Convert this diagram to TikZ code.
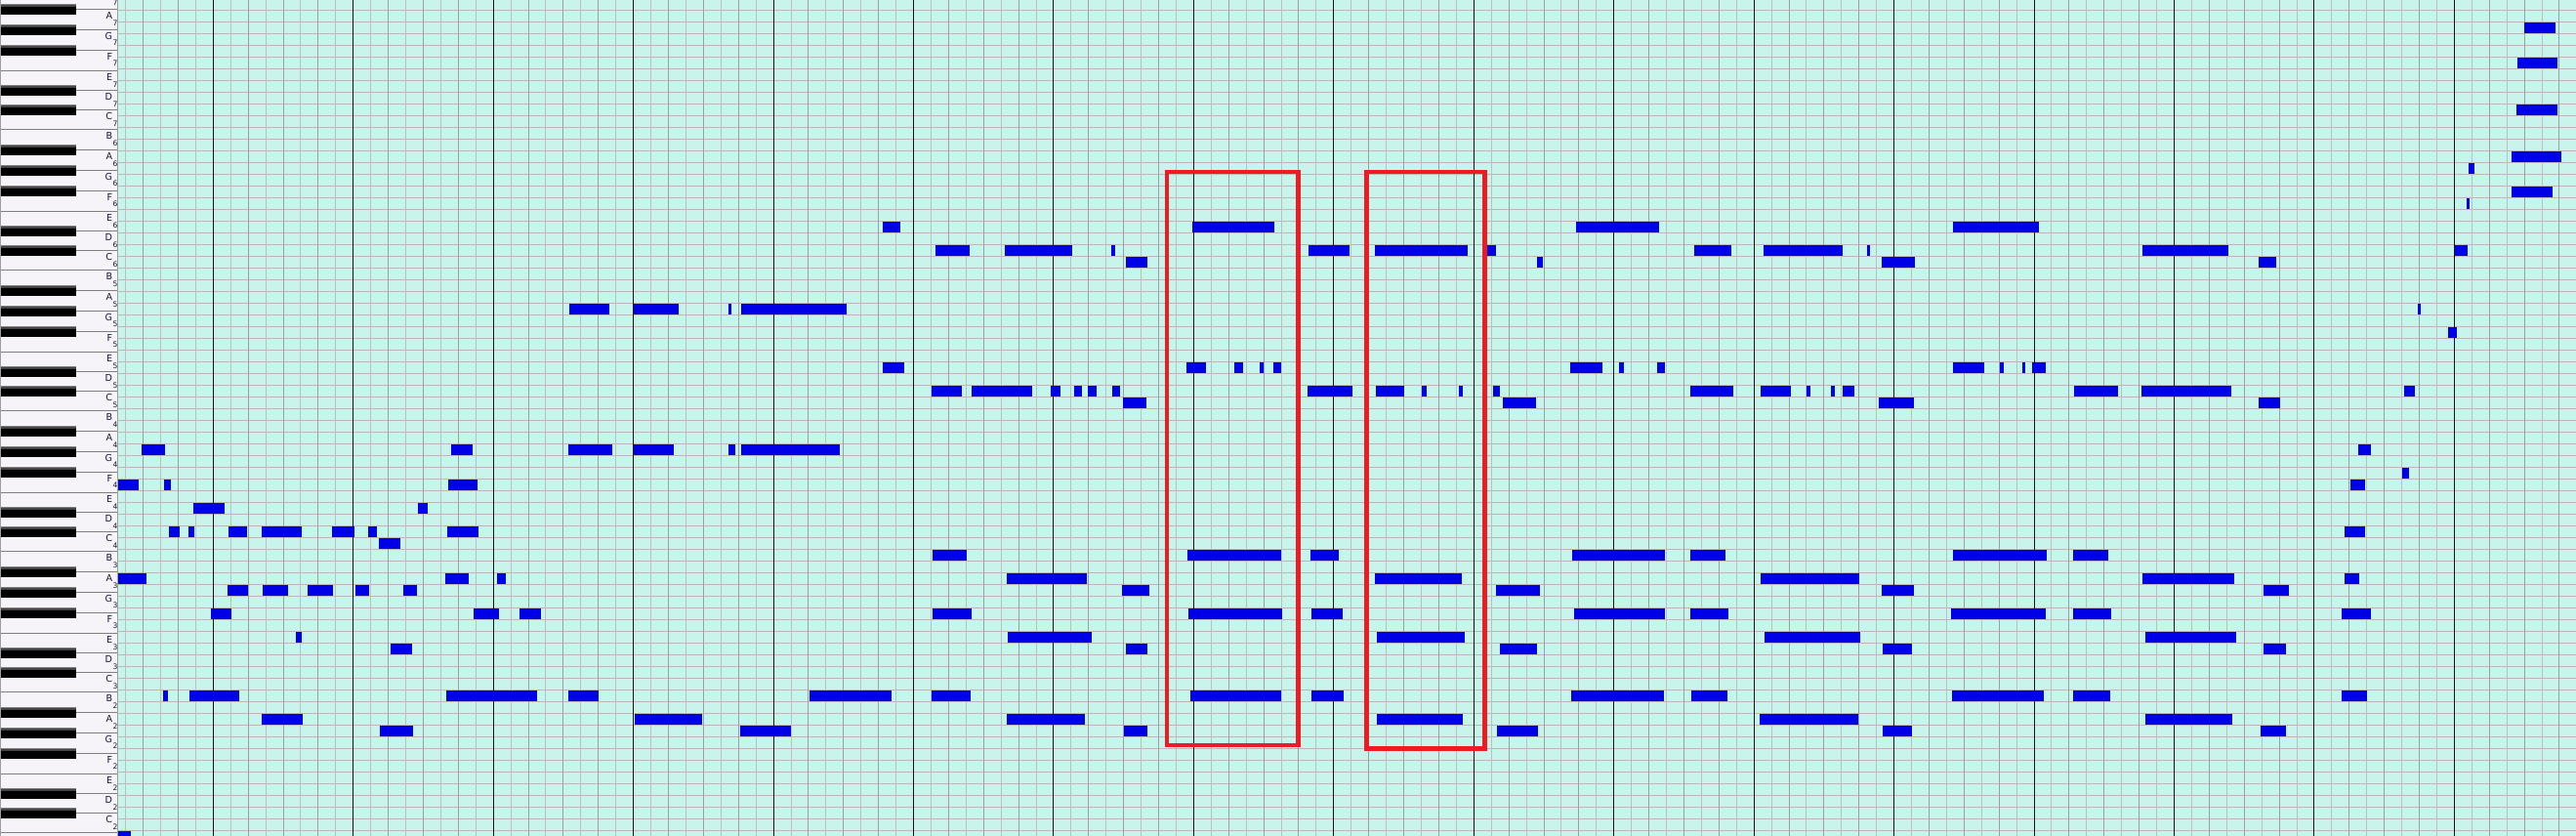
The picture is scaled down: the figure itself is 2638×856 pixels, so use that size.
\documentclass[tikz,border=0pt]{standalone}
\usepackage{fontspec}
\setmainfont{DejaVu Sans}
\definecolor{rollbg}{RGB}{200,244,236}
\definecolor{hgrid}{RGB}{184,184,184}
\definecolor{vlight}{RGB}{190,190,190}
\definecolor{vdark}{RGB}{158,158,158}
\definecolor{vbar}{RGB}{16,16,16}
\definecolor{notefill}{RGB}{0,0,230}
\definecolor{markred}{RGB}{237,28,36}
\definecolor{whitekey}{RGB}{246,244,248}
\definecolor{keyline}{RGB}{128,128,128}
\definecolor{keytop}{RGB}{70,70,70}
\definecolor{labcol}{RGB}{24,24,56}
\tikzset{
  hline/.style={draw=hgrid,line width=1pt},
  subline/.style={draw=vlight,line width=1pt},
  beatline/.style={draw=vdark,line width=1pt},
  barline/.style={draw=vbar,line width=1pt},
  notebox/.style={fill=notefill},
  redbox/.style={draw=markred,line width=4.4pt},
  keysep/.style={draw=keyline,line width=1pt},
  blackkey/.style={fill=black},
  keylab/.style={inner sep=0pt,font=\fontsize{9.6}{10}\selectfont,text=labcol},
  keysub/.style={inner sep=0pt,font=\fontsize{7.6}{8}\selectfont,text=labcol}
}
\begin{document}
\begin{tikzpicture}[x=1pt,y=-1pt]
\useasboundingbox (0,0) rectangle (2638,856);
\clip (0,0) rectangle (2638,856);
% roll background
\fill[rollbg] (120,0) rectangle (2638,856);
% horizontal grid
\foreach \k in {0,...,70}{
  \draw[hline] (120,{10.5+12*\k}) -- (2638,{10.5+12*\k});
}
% vertical grid
\foreach \j in {0,...,139}{
  \pgfmathtruncatemacro\mm{mod(\j+3,8)}
  \pgfmathtruncatemacro\od{mod(\j,2)}
  \pgfmathsetmacro\xx{128.65+17.93*\j}
  \ifnum\mm=0
    \draw[barline] (\xx,0) -- (\xx,856);
  \else
    \ifnum\od=1
      \draw[beatline] (\xx,0) -- (\xx,856);
    \else
      \draw[subline] (\xx,0) -- (\xx,856);
    \fi
  \fi
}
% notes: row k / start x / end x
\foreach \k/\a/\b in {
1/2585/2616.7, 4/2578/2619, 8/2577/2619, 12/2572/2622.7, 13/2528/2533.7, 15/2572/2613.7, 16/2526/2528.7,
18/904.1/921.9, 18/1221.1/1304.9, 18/1613.9/1699.2, 18/2000/2088.2,
20/957.9/993.2, 20/1029.1/1097.9, 20/1137.8/1141.8, 20/1340/1382, 20/1408.2/1502.9, 20/1522.9/1531.8, 20/1735.1/1773.1, 20/1806.1/1886.9, 20/1911.8/1915.1, 20/2193.9/2282, 20/2513.6/2526.8,
21/1153.1/1174.9, 21/1573.9/1580, 21/1926.9/1960.8, 21/2313.1/2331,
25/583.1/623.5, 25/648.9/695.1, 25/746/748.9, 25/759.1/867, 25/2476/2479,
27/2507/2515.8,
30/904.1/925.9, 30/1214.9/1234.9, 30/1264.1/1273.1, 30/1289.8/1294.3, 30/1304.1/1311.8, 30/1608.2/1640.8, 30/1658/1662.9, 30/1697.1/1704.9, 30/2000/2031.8, 30/2047.8/2051.8, 30/2071/2073.9, 30/2080.8/2095.1,
32/953.9/985.2, 32/995/1057.1, 32/1076/1085.9, 32/1100/1108, 32/1113.8/1122.9, 32/1138.9/1146.9, 32/1339.2/1384.9, 32/1409/1438, 32/1455.9/1460.8, 32/1493.9/1498, 32/1529/1535.9, 32/1731/1775.1, 32/1802.9/1833.9, 32/1849.8/1853.9, 32/1875.1/1879.2, 32/1886.9/1899, 32/2124.1/2169, 32/2193.1/2284.9, 32/2462/2473.1,
33/1149.8/1173.8, 33/1539.2/1573.1, 33/1924.1/1960, 33/2313.1/2335.1,
37/145.1/168.7, 37/462.1/483.5, 37/582/627.4, 37/648.9/690, 37/746/752.5, 37/759.1/860.1, 37/2415.1/2428.2,
39/2460/2467,
40/121.1/141.8, 40/168/174.5, 40/459.1/488.6, 40/2406.9/2422,
42/198.2/229.8, 42/427.9/437.7,
44/173.1/184, 44/193.1/198.9, 44/234.1/253, 44/268/309, 44/339.9/362.5, 44/377/386.1, 44/458/490, 44/2400.8/2422,
45/387.9/410.1,
46/955/989.9, 46/1216/1311.8, 46/1342/1371, 46/1609.8/1704.9, 46/1731/1767, 46/2000/2095.9, 46/2122.9/2159.2,
48/121.1/150.2, 48/455.9/479.9, 48/508.9/518, 48/1031/1113.1, 48/1408.2/1497.1, 48/1802.9/1904.1, 48/2193.9/2288.2, 48/2400.8/2415.9,
49/233/254.1, 49/269/294.8, 49/314.8/341, 49/363.9/378.1, 49/413/427.2, 49/1149.1/1177.1, 49/1531.8/1577.1, 49/1926.9/1960, 49/2318/2344.1,
51/216/237, 51/485/511.1, 51/531.9/554, 51/955/995, 51/1217.1/1313.1, 51/1342.9/1375.1, 51/1611.8/1704.9, 51/1731/1769.8, 51/1998/2095.1, 51/2122.9/2162, 51/2398/2428.2,
53/302.8/309, 53/1032/1117.9, 53/1409.8/1500, 53/1807/1904.9, 53/2197.1/2289.8,
54/399.9/422.1, 54/1153.1/1174.9, 54/1535.9/1573.9, 54/1928.2/1958, 54/2318/2340.8,
58/166.9/172, 58/194.2/245, 58/457/550, 58/582/612.9, 58/828.9/912.8, 58/953.9/993.9, 58/1218.9/1311.8, 58/1342.9/1375.9, 58/1609/1704.1, 58/1731.8/1769, 58/1999.2/2093.1, 58/2122.9/2160.8, 58/2398/2424.1,
60/268/310.1, 60/650/719.1, 60/1031/1111, 60/1409.8/1498, 60/1802/1902.9, 60/2197.1/2286.1,
61/389/423.2, 61/758/810, 61/1151/1174.9, 61/1533/1575.1, 61/1928.2/1958, 61/2315.1/2340.8,
70/121/134.2}{
  \fill[notebox] (\a,{11+12*\k}) rectangle (\b,{22+12*\k});
}
% red highlight boxes
\draw[redbox] (1195.2,176) rectangle (1329.3,763);
\draw[redbox] (1399.6,176) rectangle (1520.5,766.3);
% keyboard
\fill[whitekey] (0,0) rectangle (120,856);
\foreach \n in {-1,0,...,6}{
  \pgfmathsetmacro\T{-11.7+144*\n}
  \foreach \off in {0,21,41.5,62.5,84,104,124}{
    \draw[keysep] (0,{\T+\off+0.5}) -- (120,{\T+\off+0.5});
  }
  \foreach \off in {15.7,36.7,57.7,98.7,118.7}{
    \fill[blackkey] (0,{\T+\off}) rectangle (77.7,{\T+\off+10.7});
    \fill[keytop] (0,{\T+\off}) rectangle (77.7,{\T+\off+2.7});
    \fill[keyline] (0,{\T+\off}) rectangle (77.7,{\T+\off+0.8});
  }
}
\foreach \n/\o in {0/7,1/6,2/5,3/4,4/3,5/2}{
  \pgfmathsetmacro\T{-11.7+144*\n}
  \foreach \off/\L in {0/B,21/A,41.5/G,62.5/F,84/E,104/D,124/C}{
    \node[keylab,anchor=base east] (lab-\L\o) at (115.3,{\T+\off+10.6}) {\L};
    \node[keysub,anchor=base west] (sub-\L\o) at (115.3,{\T+\off+17}) {\o};
  }
}
\draw[draw=vdark,line width=1pt] (120.5,0) -- (120.5,856);
\draw[draw=vdark,line width=1pt] (0.5,0) -- (0.5,856);
\end{tikzpicture}
\end{document}
